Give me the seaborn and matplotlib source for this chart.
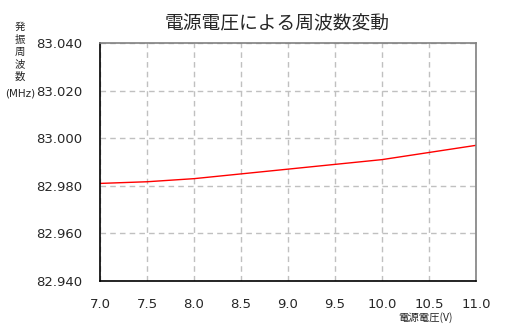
import matplotlib
matplotlib.use("Agg")
import matplotlib.pyplot as plt
import seaborn as sns
import pandas as pd

voltage = [7.0, 7.5, 8.0, 8.5, 9.0, 9.5, 10.0, 10.5, 11.0]
frequency = [82.981, 82.9817, 82.983, 82.985, 82.987, 82.989, 82.991, 82.994, 82.997]
x_ticks = [7.0, 7.5, 8.0, 8.5, 9.0, 9.5, 10.0, 10.5, 11.0]
y_ticks = [82.940, 82.960, 82.980, 83.000, 83.020, 83.040]
ylabel_chars = ["発", "振", "周", "波", "数"]

sns.set_style("white")
plt.rcParams['font.family'] = ['Noto Sans CJK JP', 'DejaVu Sans']

df = pd.DataFrame({"voltage": voltage, "frequency": frequency})

fig = plt.figure(figsize=(5.22, 3.35), dpi=100)
ax = fig.add_axes([100/522, 1-281/335, 376/522, 238/335])
sns.lineplot(data=df, x="voltage", y="frequency", ax=ax, color="#ff0000", linewidth=1.0)

ax.set_xlim(7.0, 11.0)
ax.set_ylim(82.940, 83.040)
ax.set_xticks(x_ticks)
ax.set_xticklabels([f"{v:.1f}" for v in x_ticks], fontfamily="DejaVu Sans", fontsize=9.5)
ax.set_yticks(y_ticks)
ax.set_yticklabels([f"{v:.3f}" for v in y_ticks], fontfamily="DejaVu Sans", fontsize=9.5)
ax.tick_params(axis="both", direction="in", length=4, width=1, color="black")
ax.tick_params(axis="y", pad=13)
ax.tick_params(axis="x", pad=12)
ax.grid(True, color="#c0c0c0", linestyle=(0, (4, 3)), linewidth=1)
for s in ["left", "bottom"]:
    ax.spines[s].set_color("black")
    ax.spines[s].set_linewidth(1.2)
for s in ["top", "right"]:
    ax.spines[s].set_color("#808080")
    ax.spines[s].set_linewidth(1.2)
ax.set_xlabel("")
ax.set_ylabel("")

fig.text(277.5/522, 1-24/335, "電源電圧による周波数変動", ha="center", va="center", fontsize=13.5)
for i, ch in enumerate(ylabel_chars):
    fig.text(20/522, 1-(27 + 12.5*i)/335, ch, ha="center", va="center", fontsize=7.5)
fig.text(20/522, 1-94/335, "(MHz)", ha="center", va="center", fontsize=7.5, fontfamily=["DejaVu Sans"])
fig.text(425/522, 1-318/335, "電源電圧(V)", ha="center", va="center", fontsize=7.5)

fig.savefig("out.png", dpi=100)
